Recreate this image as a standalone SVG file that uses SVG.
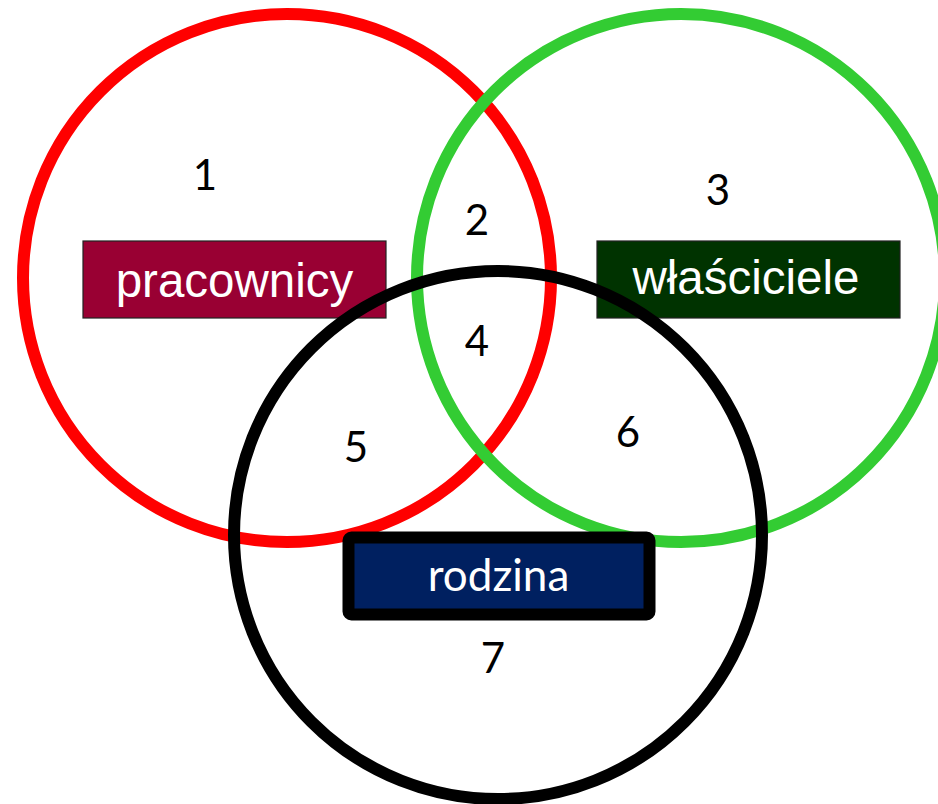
<svg xmlns="http://www.w3.org/2000/svg" width="938" height="804" viewBox="0 0 938 804">
<style>
.set{fill:none;stroke-width:12}
.lbl{stroke:#222;stroke-width:1.2}
.lt{font-family:"Liberation Sans",Arial,sans-serif;font-size:47.5px;fill:#fff;text-anchor:middle}
.num{font-family:Lato,"Open Sans",sans-serif;font-size:42px;fill:#000;text-anchor:middle}
</style>
<rect width="938" height="804" fill="#fff"/>
<g id="set-pracownicy"><circle class="set" cx="287" cy="278" r="264" stroke="#ff0000"/></g>
<g id="set-wlasciciele"><circle class="set" cx="681" cy="278" r="264" stroke="#33cc33"/></g>
<g id="label-pracownicy"><rect class="lbl" x="83" y="241" width="303" height="77" fill="#990033"/><text class="lt" x="234.5" y="297">pracownicy</text></g>
<g id="label-wlasciciele"><rect class="lbl" x="597" y="241" width="303" height="77" fill="#003300"/><text class="lt" x="746" y="294">właściciele</text></g>
<g id="set-rodzina"><circle class="set" cx="498" cy="535" r="264" stroke="#000"/></g>
<g id="label-rodzina"><rect x="348.5" y="537.5" width="301" height="77" rx="3" fill="#002060" stroke="#000" stroke-width="12"/><text x="498.5" y="591" font-family="Lato,'Open Sans',sans-serif" font-size="44" fill="#fff" text-anchor="middle">rodzina</text></g>
<g id="regions">
<text class="num" x="205" y="190">1</text>
<text class="num" x="477" y="235">2</text>
<text class="num" x="718" y="205">3</text>
<text class="num" x="477" y="356">4</text>
<text class="num" x="356" y="462">5</text>
<text class="num" x="628" y="447">6</text>
<text class="num" x="493" y="673">7</text>
</g>
<g id="connectors"></g>
</svg>
